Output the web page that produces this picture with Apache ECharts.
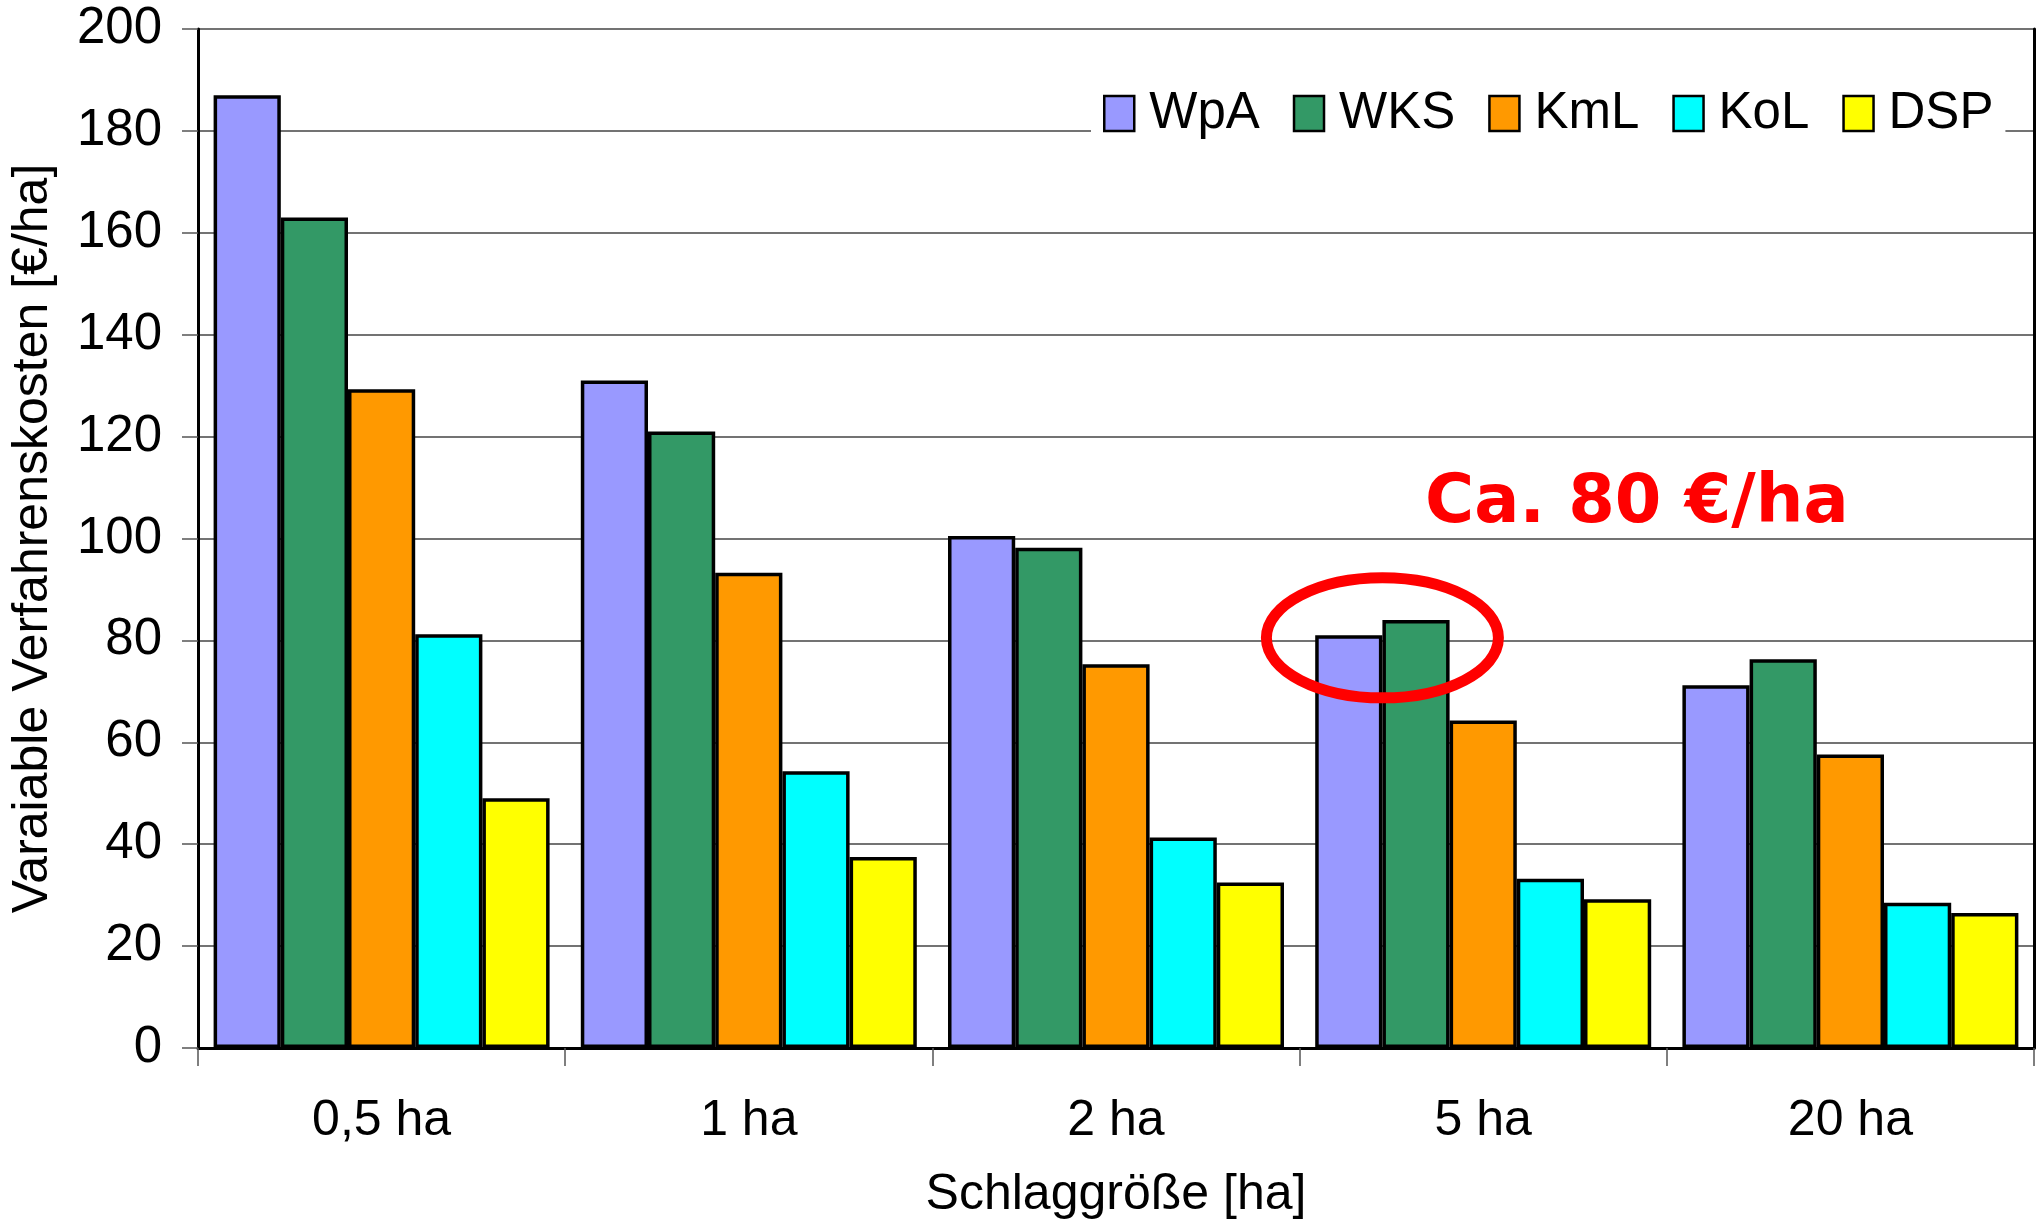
<!DOCTYPE html>
<html>
<head>
<meta charset="utf-8">
<script src="https://cdn.jsdelivr.net/npm/echarts@6/dist/echarts.min.js"></script>
<style>
  html, body { margin: 0; padding: 0; background: #fff; }
  #chart { width: 2042px; height: 1225px; }
</style>
</head>
<body>
<div id="chart"></div>
<script>
// Kategorien (Schlaggröße) und Werte je Verfahren [€/ha]
var categories = ['0,5 ha', '1 ha', '2 ha', '5 ha', '20 ha'];
var seriesNames = ['WpA', 'WKS', 'KmL', 'KoL', 'DSP'];
var wpa = [187, 131, 100.5, 81, 71.2];
var wks = [163, 121, 98.2, 84, 76.3];
var kml = [129.3, 93.3, 75.3, 64.3, 57.6];
var kol = [81.2, 54.3, 41.3, 33.2, 28.5];
var dsp = [49, 37.5, 32.5, 29.2, 26.5];
var colors = ['#9999FF', '#339966', '#FF9900', '#00FFFF', '#FFFF00'];
var yTicks = { min: 0, max: 200, interval: 20 };

var font = 'Liberation Sans, Arial, sans-serif';
var catGap = 0.085;

var allValues = [wpa, wks, kml, kol, dsp];
var series = [];
for (var i = 0; i < seriesNames.length; i++) {
  series.push({
    name: seriesNames[i],
    type: 'bar',
    data: allValues[i],
    barGap: 0,
    barCategoryGap: (catGap * 100) + '%',
    itemStyle: { color: colors[i], borderColor: '#000', borderWidth: 3.5 }
  });
}

var option = {
  animation: false,
  backgroundColor: '#fff',
  color: colors,
  grid: { left: 198, right: 8, top: 29, bottom: 175 },
  legend: {
    data: seriesNames,
    icon: 'rect',
    left: 1091,
    top: 84,
    padding: [4, 12, 4, 12],
    backgroundColor: '#fff',
    itemWidth: 30,
    itemHeight: 35,
    itemGap: 33,
    itemStyle: { borderColor: '#000', borderWidth: 2.5 },
    textStyle: { fontFamily: font, fontSize: 51, color: '#000', padding: [0, 0, 0, 10] }
  },
  xAxis: {
    type: 'category',
    data: categories,
    name: 'Schlaggröße [ha]',
    nameLocation: 'middle',
    nameGap: 122,
    nameTextStyle: { fontFamily: font, fontSize: 50, color: '#000' },
    axisLine: { lineStyle: { color: '#000', width: 3 } },
    axisTick: { show: true, length: 18, lineStyle: { color: '#555', width: 1.5 } },
    axisLabel: { fontFamily: font, fontSize: 50, color: '#000', margin: 48 }
  },
  yAxis: [{
    type: 'value',
    min: yTicks.min,
    max: yTicks.max,
    interval: yTicks.interval,
    name: 'Varaiable Verfahrenskosten [€/ha]',
    nameLocation: 'middle',
    nameGap: 140,
    nameTextStyle: { fontFamily: font, fontSize: 50, color: '#000' },
    axisLine: { show: true, lineStyle: { color: '#000', width: 3 } },
    axisTick: { show: true, length: 16, lineStyle: { color: '#555', width: 1.5 } },
    axisLabel: { fontFamily: font, fontSize: 51, color: '#000', margin: 36 },
    splitLine: { lineStyle: { color: '#444', width: 1.5 } }
  }, {
    // rechter Rahmen
    type: 'value',
    position: 'right',
    min: yTicks.min,
    max: yTicks.max,
    interval: yTicks.interval,
    axisLine: { show: true, lineStyle: { color: '#000', width: 3 } },
    axisTick: { show: false },
    axisLabel: { show: false },
    splitLine: { show: false }
  }],
  series: series
};

var myChart = echarts.init(document.getElementById('chart'));
myChart.setOption(option);

// Markierung um WpA/WKS bei 5 ha
var c0 = myChart.convertToPixel({ gridIndex: 0 }, [0, 0]);
var c1 = myChart.convertToPixel({ gridIndex: 0 }, [1, 0]);
var catW = c1[0] - c0[0];
var barW = catW * (1 - catGap) / seriesNames.length;
var mid = myChart.convertToPixel({ gridIndex: 0 }, [3, 80.5]);
var cx = mid[0] - 1.5 * barW;
var cy = mid[1];

myChart.setOption({
  graphic: [{
    type: 'ellipse',
    shape: { cx: cx, cy: cy, rx: 116, ry: 60 },
    style: { fill: null, stroke: '#FF0000', lineWidth: 11 },
    z: 100
  }, {
    type: 'text',
    left: 1425,
    top: 471,
    style: {
      text: 'Ca. 80 €/ha',
      fill: '#FF0000',
      font: 'bold 67px "DejaVu Sans", Verdana, sans-serif'
    },
    z: 100
  }]
});
</script>
</body>
</html>
